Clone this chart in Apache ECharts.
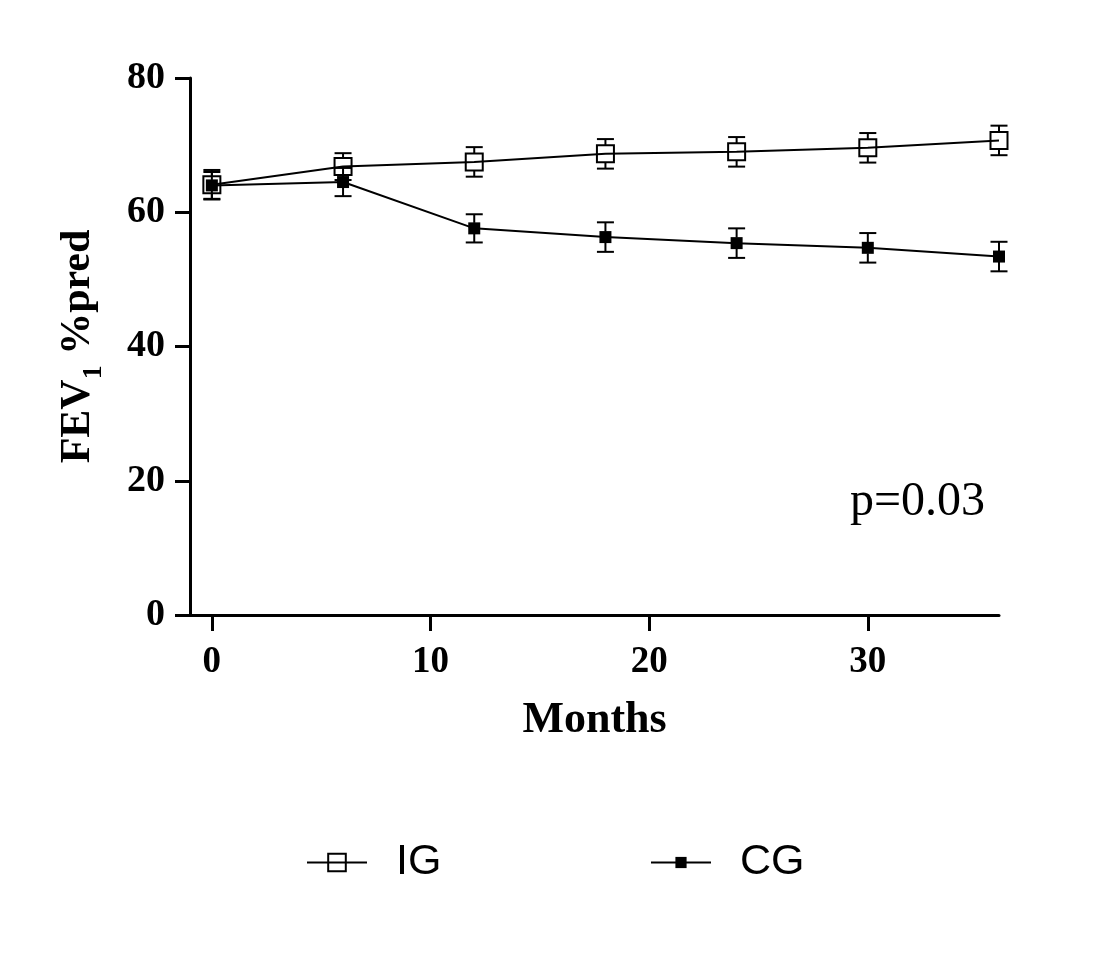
<!DOCTYPE html>
<html>
<head>
<meta charset="utf-8">
<script src="https://cdn.jsdelivr.net/npm/echarts@6/dist/echarts.min.js"></script>
<style>
  html, body { margin: 0; padding: 0; background: #fff; }
  #chart { width: 1110px; height: 978px; }
</style>
</head>
<body>
<div id="chart"></div>
<script>
// months of follow-up
const months = [0, 6, 12, 18, 24, 30, 36];
// FEV1 %pred, mean and SEM
const igMean = [64.1, 66.8, 67.5, 68.7, 69.0, 69.6, 70.7];
const igErr  = [2.2, 2.0, 2.2, 2.2, 2.2, 2.2, 2.2];
const cgMean = [64.0, 64.5, 57.6, 56.3, 55.4, 54.7, 53.4];
const cgErr  = [2.0, 2.1, 2.1, 2.2, 2.2, 2.2, 2.2];
const xTicks = [0, 10, 20, 30];

const serif = 'Liberation Serif';

const pts = (mean) => months.map((m, i) => [m, mean[i]]);
const errs = (mean, err) => months.map((m, i) => [m, mean[i] - err[i], mean[i] + err[i], mean[i]]);

// error bar with caps, leaves a gap where the marker sits
function errorBar(half) {
  return function (params, api) {
    const x = api.value(0);
    const lo = api.coord([x, api.value(1)]);
    const hi = api.coord([x, api.value(2)]);
    const mid = api.coord([x, api.value(3)]);
    const cap = 8.5;
    const st = { stroke: '#000', lineWidth: 2 };
    return {
      type: 'group',
      children: [
        { type: 'line', shape: { x1: hi[0] - cap, y1: hi[1], x2: hi[0] + cap, y2: hi[1] }, style: st },
        { type: 'line', shape: { x1: lo[0] - cap, y1: lo[1], x2: lo[0] + cap, y2: lo[1] }, style: st },
        { type: 'line', shape: { x1: hi[0], y1: hi[1], x2: mid[0], y2: mid[1] - half }, style: st },
        { type: 'line', shape: { x1: lo[0], y1: lo[1], x2: mid[0], y2: mid[1] + half }, style: st }
      ]
    };
  };
}

const chart = echarts.init(document.getElementById('chart'));

const legendText = { fontFamily: 'Liberation Sans', fontSize: 43, color: '#000', padding: [0, 0, 0, 24] };

chart.setOption({
  backgroundColor: '#fff',
  animation: false,
  grid: { left: 190, right: 111, top: 78, bottom: 363 },
  legend: [
    { data: ['IG'], left: 301, top: 836, itemWidth: 60, itemHeight: 22, textStyle: legendText, selectedMode: false },
    { data: ['CG'], left: 645, top: 836, itemWidth: 60, itemHeight: 14, textStyle: legendText, selectedMode: false }
  ],
  xAxis: {
    type: 'value',
    min: -1,
    max: 36,
    name: 'Months',
    nameLocation: 'middle',
    nameGap: 84,
    nameTextStyle: { fontFamily: serif, fontWeight: 'bold', fontSize: 44, color: '#000' },
    axisLine: { onZero: false, lineStyle: { color: '#000', width: 3 } },
    axisTick: { customValues: xTicks, length: 16, lineStyle: { color: '#000', width: 3 } },
    axisLabel: { customValues: xTicks, margin: 29, fontFamily: serif, fontWeight: 'bold', fontSize: 37, color: '#000' },
    splitLine: { show: false }
  },
  yAxis: {
    type: 'value',
    min: 0,
    max: 80,
    interval: 20,
    name: '{a|FEV}{b|1}{a| %pred}',
    nameLocation: 'middle',
    nameGap: 82,
    nameMoveOverlap: false,
    nameTextStyle: {
      rich: {
        a: { fontFamily: serif, fontWeight: 'bold', fontSize: 42, color: '#000', padding: [0, 0, 9, 0], verticalAlign: 'bottom' },
        b: { fontFamily: serif, fontWeight: 'bold', fontSize: 28, color: '#000', verticalAlign: 'bottom' }
      }
    },
    axisLine: { show: true, onZero: false, lineStyle: { color: '#000', width: 3 } },
    axisTick: { show: true, length: 15, lineStyle: { color: '#000', width: 3 } },
    axisLabel: { margin: 25, fontFamily: serif, fontWeight: 'bold', fontSize: 38, color: '#000' },
    splitLine: { show: false }
  },
  graphic: [
    {
      type: 'text',
      left: 850,
      top: 478,
      style: { text: 'p=0.03', fontFamily: serif, fontSize: 48, fill: '#000' }
    }
  ],
  series: [
    {
      name: 'IG err',
      type: 'custom',
      renderItem: errorBar(8.5),
      encode: { x: 0, y: [1, 2] },
      data: errs(igMean, igErr),
      z: 1,
      silent: true
    },
    {
      name: 'CG err',
      type: 'custom',
      renderItem: errorBar(5.5),
      encode: { x: 0, y: [1, 2] },
      data: errs(cgMean, cgErr),
      z: 1,
      silent: true
    },
    {
      name: 'IG',
      type: 'line',
      data: pts(igMean),
      symbol: 'rect',
      symbolSize: 17,
      lineStyle: { color: '#000', width: 2 },
      itemStyle: { color: 'rgba(255,255,255,0)', borderColor: '#000', borderWidth: 2 },
      emphasis: { disabled: true },
      z: 3
    },
    {
      name: 'CG',
      type: 'line',
      data: pts(cgMean),
      symbol: 'rect',
      symbolSize: 12,
      lineStyle: { color: '#000', width: 2 },
      itemStyle: { color: '#000', borderColor: '#000', borderWidth: 0 },
      emphasis: { disabled: true },
      z: 4
    }
  ]
});
</script>
</body>
</html>
